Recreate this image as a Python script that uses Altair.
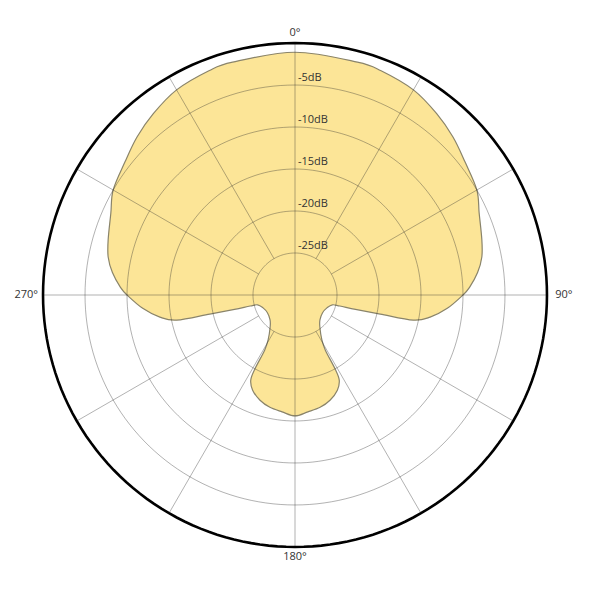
import altair as alt
import pandas as pd

# Polar pattern: angle (deg, clockwise from 0 at top) and level (dB)
pattern_angle = [0, 15, 21, 30, 38, 45, 52, 60, 66, 73.5, 78.5, 83, 87.5, 90, 95, 99.3, 102, 102.6,
                 103.3, 103.8, 104.7, 112, 122.7, 135, 142, 149, 151.2, 151.5, 152.5, 156, 161.6,
                 167.4, 173.7, 180,
                 186.3, 192.6, 198.4, 204, 207.5, 208.5, 208.8, 211, 218, 225, 237.3, 248, 255.3,
                 256.2, 256.7, 257.4, 258, 260.7, 265, 270, 272.5, 277, 281.5, 286.5, 294, 300,
                 308, 315, 322, 330, 339, 345]
pattern_db = [-1.1, -1.3, -1.4, -1.8, -2.6, -3.4, -4.3, -5.0, -6.0, -6.8, -7.3, -8.1, -9.2, -10.0,
              -11.8, -13.7, -15.6, -19.6, -22.6, -24.5, -25.4, -25.9, -26.1, -25.8, -25.2, -23.8,
              -22.5, -20.1, -18.6, -17.6, -16.8, -16.3, -16.0, -15.6,
              -16.0, -16.3, -16.8, -17.6, -18.6, -20.1, -22.5, -23.8, -25.2, -25.8, -26.1, -25.9,
              -25.4, -24.5, -22.6, -19.6, -15.6, -13.7, -11.8, -10.0, -9.2, -8.1, -7.3, -6.8,
              -6.0, -5.0, -4.3, -3.4, -2.6, -1.8, -1.4, -1.3]

ring_db = [-25, -20, -15, -10, -5]
outer_db = [0]
ring_labels = ["-5dB", "-10dB", "-15dB", "-20dB", "-25dB"]
ring_label_db = [-5, -10, -15, -20, -25]
spoke_angle = [0, 30, 60, 90, 120, 150, 180, 210, 240, 270, 300, 330]
angle_label_deg = [0, 90, 180, 270]
angle_label_text = ["0°", "90°", "180°", "270°"]

FLOOR = 30  # dB shown from -30 (centre) to 0 (outer circle)
R = 34.17
xs = alt.Scale(domain=[-R, R], nice=False, zero=False)
ys = alt.Scale(domain=[-R, R], nice=False, zero=False)
X = alt.X("x:Q", scale=xs, axis=None)
Y = alt.Y("y:Q", scale=ys, axis=None)

pat = pd.DataFrame({"angle": pattern_angle, "db": pattern_db, "i": list(range(len(pattern_db)))})
fill = alt.Chart(pat).transform_calculate(
    r=f"datum.db + {FLOOR}",
    x="datum.r * sin(datum.angle * PI / 180)",
    y="datum.r * cos(datum.angle * PI / 180)",
).mark_line(
    interpolate="cardinal-closed", fill="#fce597", stroke="#8a846a", strokeWidth=1.2
).encode(x=X, y=Y, order="i:Q")


def circles(levels, **style):
    return alt.Chart(pd.DataFrame({"db": levels})).transform_calculate(
        angs="sequence(0, 362, 2)"
    ).transform_flatten(["angs"], as_=["a"]).transform_calculate(
        r=f"datum.db + {FLOOR}",
        x="datum.r * sin(datum.a * PI / 180)",
        y="datum.r * cos(datum.a * PI / 180)",
    ).mark_line(**style).encode(x=X, y=Y, detail="db:N", order="a:Q")


rings = circles(ring_db, stroke="#2a2a2a", strokeOpacity=0.36, strokeWidth=1)
outer = circles(outer_db, stroke="#000000", strokeWidth=2.6)

inner_r = ring_db[0] + FLOOR
spokes = alt.Chart(pd.DataFrame({"angle": spoke_angle})).transform_calculate(
    r0=f"datum.angle % 90 == 0 ? 0 : {inner_r}",
    x="datum.r0 * sin(datum.angle * PI / 180)",
    y="datum.r0 * cos(datum.angle * PI / 180)",
    x2=f"{FLOOR} * sin(datum.angle * PI / 180)",
    y2=f"{FLOOR} * cos(datum.angle * PI / 180)",
).mark_rule(stroke="#2a2a2a", strokeOpacity=0.36, strokeWidth=1).encode(
    x=X, y=Y, x2="x2:Q", y2="y2:Q"
)

ring_text = alt.Chart(pd.DataFrame({"db": ring_label_db, "t": ring_labels})).transform_calculate(
    x="0", y=f"datum.db + {FLOOR}"
).mark_text(align="left", baseline="bottom", dx=3, dy=-2, fontSize=11, color="#333333",
            font="Open Sans").encode(x=X, y=Y, text="t:N")

angle_text = alt.Chart(pd.DataFrame({"angle": angle_label_deg, "t": angle_label_text})).transform_calculate(
    r=f"{FLOOR} + (datum.angle % 180 == 0 ? 1.2 : 2.0)",
    x="datum.r * sin(datum.angle * PI / 180)",
    y="datum.r * cos(datum.angle * PI / 180)",
).mark_text(align="center", baseline="middle", fontSize=11, color="#333333",
            font="Open Sans").encode(x=X, y=Y, text="t:N")

chart = alt.layer(fill, rings, spokes, outer, ring_text, angle_text).properties(
    width=574, height=574, padding=0, autosize="none"
).configure_view(stroke=None)

chart.save("out.html", embed_options={"renderer": "svg", "actions": False})
